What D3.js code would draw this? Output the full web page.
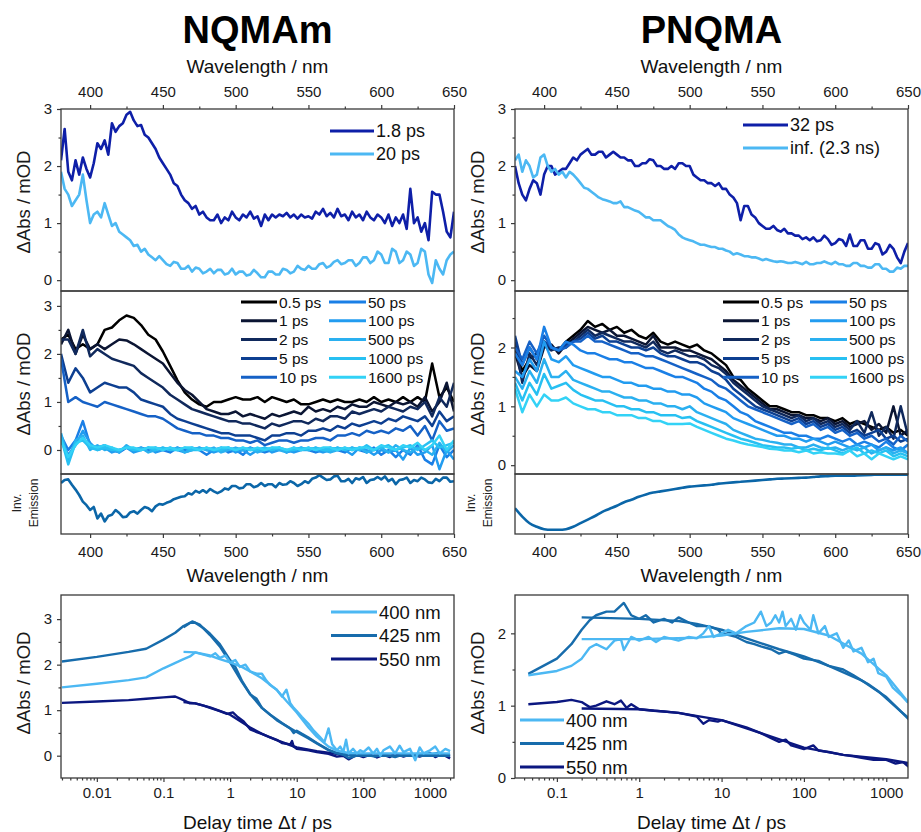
<!DOCTYPE html>
<html><head><meta charset="utf-8">
<script src="https://cdn.jsdelivr.net/npm/d3@7"></script>
<style>body{margin:0;background:#fff}</style>
</head><body>
<svg id="c" width="921" height="832"></svg>
<script>
// ---------- DATA ----------
const wavelengths = d3.range(380, 651, 5);        // 5 nm grid (55 points)
const wavelengthsFine = d3.range(380, 650.1, 2.5); // 2.5 nm grid (109 points)
const wlTicks = [400, 450, 500, 550, 600, 650];
const wlMinor = [425, 475, 525, 575, 625];

// NQMAm decay-associated spectra (2.5 nm grid)
const nqLabels = ["1.8 ps", "20 ps"];
const nqDas18 = [2.1,2.65,1.9,1.75, 2.1,1.85,2.15,1.95, 1.8,2.05,2.4,2.3, 2.45,2.2,2.75,2.6, 2.7,2.75,2.9,2.95,
  2.8,2.7,2.72,2.55, 2.5,2.4,2.3,2.15, 2.05,1.95,1.85,1.7, 1.65,1.5,1.4,1.35, 1.25,1.3,1.15,1.2,
  1.1,1.05,1.05,1.15, 1.0,1.1,1.05,1.2, 1.1,1.05,1.15,1.1, 1.2,1.08,1.12,0.95, 1.15,1.05,1.15,1.1,
  1.15,1.12,1.18,1.1, 1.15,1.08,1.15,1.1, 1.12,1.08,1.2,1.15, 1.25,1.12,1.18,1.1, 1.25,1.12,1.15,1.05,
  1.2,1.1,1.15,1.05, 1.2,1.1,1.05,1.15, 1.1,1.0,1.15,0.95, 1.1,1.0,1.15,0.9, 1.6,1.0,1.1,0.85,
  1.0,0.7,1.55,1.5, 1.5,1.2,0.85,0.75, 1.2];
const nqDas20 = [1.9,1.6,1.5,1.3, 1.4,1.5,1.85,1.4, 1.0,1.15,1.2,1.1, 1.35,1.15,0.95,1.0, 0.85,0.8,0.75,0.7,
  0.6,0.62,0.5,0.55, 0.45,0.4,0.35,0.42, 0.35,0.28,0.25,0.32, 0.3,0.2,0.2,0.25, 0.15,0.22,0.2,0.12,
  0.15,0.2,0.12,0.18, 0.18,0.1,0.12,0.2, 0.1,0.15,0.15,0.08, 0.1,0.18,0.12,0.05, 0.05,0.15,0.15,0.1,
  0.1,0.2,0.18,0.12, 0.15,0.25,0.2,0.18, 0.25,0.2,0.2,0.28, 0.3,0.22,0.25,0.32, 0.35,0.28,0.3,0.35,
  0.35,0.25,0.3,0.4, 0.4,0.3,0.35,0.5, 0.45,0.3,0.3,0.55, 0.5,0.3,0.35,0.5, 0.45,0.25,0.3,0.55,
  0.5,0.1,-0.05,0.35, 0.2,0.1,0.35,0.45, 0.5];

// PNQMA decay-associated spectra (2.5 nm grid)
const pnLabels = ["32 ps", "inf. (2.3 ns)"];
const pnDas32 = [2.0,1.7,1.5,1.4, 1.6,1.75,1.7,1.5, 1.85,2.0,2.0,1.85, 1.9,1.95,1.95,2.05, 2.15,2.1,2.2,2.25,
  2.3,2.2,2.2,2.25, 2.25,2.15,2.2,2.25, 2.2,2.15,2.15,2.1, 2.1,2.0,2.0,2.05, 2.05,2.12,2.1,2.0,
  2.0,1.95,1.95,2.0, 1.95,2.05,2.05,2.0, 2.0,1.85,1.8,1.75, 1.75,1.7,1.7,1.65, 1.7,1.6,1.6,1.5,
  1.45,1.35,1.05,1.3, 1.3,1.15,1.1,1.0, 0.95,0.9,0.9,0.95, 0.88,0.85,0.9,0.82, 0.82,0.78,0.78,0.72,
  0.75,0.7,0.75,0.68, 0.7,0.78,0.72,0.62, 0.65,0.72,0.7,0.6, 0.8,0.6,0.6,0.7, 0.7,0.55,0.55,0.65,
  0.62,0.45,0.5,0.62, 0.55,0.4,0.3,0.5, 0.65];
const pnDasInf = [2.1,2.2,1.9,2.1, 2.0,1.8,1.85,2.15, 2.2,2.0,1.9,1.95, 1.85,1.9,1.8,1.9, 1.85,1.78,1.7,1.62,
  1.6,1.55,1.5,1.45, 1.42,1.4,1.38,1.35, 1.35,1.38,1.28,1.28, 1.25,1.22,1.2,1.15, 1.1,1.1,1.05,1.05,
  1.05,1.0,0.95,0.92, 0.88,0.8,0.75,0.72, 0.7,0.68,0.65,0.62, 0.62,0.6,0.58,0.58, 0.55,0.55,0.52,0.5,
  0.45,0.47,0.45,0.42, 0.42,0.4,0.4,0.38, 0.35,0.37,0.35,0.33, 0.32,0.33,0.32,0.3, 0.3,0.32,0.3,0.28,
  0.32,0.28,0.28,0.3, 0.3,0.33,0.3,0.28, 0.32,0.28,0.28,0.25, 0.25,0.3,0.3,0.25, 0.25,0.22,0.22,0.28,
  0.28,0.2,0.2,0.15, 0.15,0.22,0.2,0.25, 0.25];

// Transient spectra at delay times (5 nm grid)
const delayLabels = ["0.5 ps","1 ps","2 ps","5 ps","10 ps","50 ps","100 ps","500 ps","1000 ps","1600 ps"];
const nqT05 = [2.3,2.4,2.1,2.2,2.1,2.2,2.5,2.55,2.7,2.8,2.75,2.6,2.4,2.3,2.05,1.75,1.45,1.2,1.05,0.95,0.9,1.0,1.0,1.05,1.1,1.05,1.05,1.1,1.0,1.1,1.05,1.0,1.05,0.95,0.95,1.0,1.05,1.0,1.05,1.0,1.0,1.05,1.0,1.1,1.0,1.05,1.0,1.1,1.0,1.1,1.0,1.8,1.1,1.3,1.0];
const nqT1 = [2.2,2.5,2.0,2.4,2.1,2.2,2.1,2.2,2.3,2.28,2.2,2.1,2.0,1.9,1.8,1.6,1.4,1.25,1.15,1.0,0.85,0.8,0.75,0.75,0.8,0.7,0.75,0.7,0.65,0.75,0.7,0.75,0.8,0.75,0.9,0.8,0.85,0.8,0.9,0.85,0.95,0.9,0.9,1.0,0.95,0.9,1.0,0.95,1.0,0.9,1.1,0.8,1.0,1.4,0.8];
const nqT2 = [2.3,2.3,2.0,2.5,1.95,2.1,2.0,1.9,1.85,1.8,1.75,1.6,1.5,1.4,1.3,1.15,1.05,0.95,0.85,0.8,0.75,0.7,0.65,0.6,0.6,0.55,0.55,0.5,0.45,0.55,0.5,0.55,0.6,0.6,0.55,0.65,0.6,0.7,0.7,0.65,0.8,0.75,0.8,0.85,0.8,0.9,0.85,0.8,0.9,0.85,1.0,0.7,1.1,0.9,1.4];
const nqT5 = [2.0,1.4,1.7,1.5,1.2,1.3,1.4,1.35,1.3,1.3,1.2,1.05,1.0,0.95,0.9,0.75,0.65,0.6,0.55,0.5,0.45,0.4,0.35,0.35,0.3,0.3,0.3,0.25,0.2,0.3,0.3,0.35,0.35,0.3,0.4,0.4,0.45,0.4,0.5,0.45,0.55,0.5,0.55,0.6,0.55,0.65,0.6,0.7,0.65,0.6,0.7,0.5,0.8,0.6,0.7];
const nqT10 = [1.9,1.0,1.1,1.0,0.95,0.9,1.0,0.95,0.9,0.85,0.8,0.75,0.7,0.7,0.65,0.55,0.45,0.4,0.35,0.35,0.3,0.3,0.25,0.25,0.2,0.2,0.15,0.2,0.1,0.15,0.2,0.2,0.15,0.2,0.2,0.25,0.25,0.2,0.3,0.3,0.35,0.3,0.4,0.35,0.4,0.35,0.45,0.4,0.5,0.3,0.5,0.2,0.6,0.4,0.45];
const nqT50 = [0.3,0.0,0.2,0.6,0.1,0.05,0.1,0.0,-0.05,0.05,0.0,0.05,0.0,0.05,0.0,-0.05,0.05,0.0,0.05,0.0,-0.1,0.0,0.05,-0.05,0.0,-0.1,0.05,0.0,-0.05,0.0,0.05,-0.05,0.0,0.05,0.0,-0.05,0.0,0.05,0.0,-0.05,0.05,0.0,-0.05,0.05,-0.1,0.0,-0.15,0.0,-0.1,0.1,-0.2,-0.3,0.1,-0.15,0.0];
const nqT100 = [0.2,-0.1,0.1,0.4,0.15,0.0,0.05,-0.05,0.0,0.05,-0.05,0.0,0.05,-0.05,0.0,0.05,0.0,-0.05,0.0,0.05,0.0,-0.05,0.0,0.05,-0.05,0.0,-0.1,0.0,0.05,-0.05,0.0,0.0,-0.05,0.0,0.05,0.0,-0.05,0.0,0.05,0.0,-0.1,0.05,0.0,-0.1,0.0,-0.05,0.0,-0.2,0.05,-0.1,-0.05,0.1,-0.4,0.0,-0.2];
const nqT500 = [0.35,-0.2,0.2,0.3,0.0,0.1,0.0,0.05,-0.05,0.1,0.0,0.05,-0.05,0.0,0.05,0.0,0.05,-0.05,0.0,0.05,0.0,0.05,-0.05,0.0,0.05,0.0,0.05,-0.05,0.0,0.05,0.0,-0.05,0.05,0.0,0.0,0.05,0.0,-0.05,0.0,0.05,0.0,0.05,-0.05,0.0,0.05,-0.05,0.1,0.0,-0.05,0.05,0.0,-0.1,0.15,-0.05,0.1];
const nqT1000 = [0.25,-0.3,0.15,0.2,0.05,0.0,0.05,0.0,0.0,0.05,0.0,0.0,0.05,0.0,0.05,0.0,0.0,0.05,0.0,0.0,0.05,0.0,0.0,0.05,0.0,0.05,0.0,0.0,0.05,0.0,0.05,0.0,0.0,0.05,0.0,0.05,0.0,0.0,0.05,0.0,0.05,0.0,0.1,0.0,0.05,0.1,0.0,0.05,0.1,0.0,0.1,0.2,0.05,0.1,0.15];
const nqT1600 = [0.2,-0.15,0.1,0.25,0.1,0.05,0.1,0.05,0.0,0.05,0.05,0.0,0.05,0.05,0.0,0.05,0.0,0.05,0.05,0.0,0.05,0.0,0.05,0.05,0.0,0.05,0.0,0.05,0.0,0.05,0.05,0.0,0.05,0.0,0.05,0.0,0.05,0.05,0.0,0.05,0.0,0.05,0.05,0.0,0.1,0.05,0.0,0.1,0.05,0.15,0.0,0.1,0.3,0.0,0.2];

const pnT05 = [2.0,1.6,1.8,1.9,2.1,2.0,1.95,2.1,2.2,2.3,2.45,2.35,2.4,2.3,2.35,2.25,2.3,2.2,2.15,2.25,2.1,2.05,2.1,2.05,2.0,2.05,1.95,1.9,1.8,1.7,1.5,1.45,1.3,1.2,1.1,1.0,1.0,0.95,0.9,0.9,0.85,0.85,0.8,0.8,0.75,0.8,0.7,0.75,0.7,0.65,0.6,0.65,0.55,0.6,0.5];
const pnT1 = [1.9,1.5,1.7,1.6,2.0,2.05,1.9,2.05,2.15,2.25,2.35,2.3,2.25,2.3,2.2,2.2,2.15,2.1,2.05,2.2,2.0,2.0,2.0,1.95,1.95,1.9,1.85,1.8,1.7,1.6,1.45,1.35,1.25,1.15,1.05,0.95,0.95,0.9,0.85,0.85,0.8,0.8,0.75,0.8,0.7,0.75,0.65,0.7,0.75,0.6,0.7,0.55,1.0,0.5,0.6];
const pnT2 = [2.1,1.4,1.9,1.7,2.05,1.95,2.0,2.0,2.1,2.2,2.3,2.2,2.25,2.2,2.15,2.1,2.1,2.05,2.0,2.1,1.95,1.9,1.95,1.9,1.85,1.85,1.8,1.7,1.65,1.55,1.4,1.3,1.2,1.1,1.0,0.95,0.9,0.85,0.8,0.85,0.75,0.8,0.7,0.75,0.65,0.7,0.6,0.75,0.55,0.9,0.5,0.65,0.45,1.0,0.5];
const pnT5 = [2.2,1.7,2.0,1.8,2.1,2.0,1.95,2.05,2.1,2.15,2.25,2.15,2.2,2.1,2.1,2.05,2.0,2.0,1.95,2.0,1.9,1.85,1.85,1.8,1.75,1.75,1.7,1.6,1.55,1.45,1.3,1.2,1.1,1.0,0.95,0.9,0.85,0.8,0.75,0.8,0.7,0.75,0.65,0.7,0.6,0.65,0.55,0.6,0.5,0.55,0.6,0.45,0.5,0.4,0.45];
const pnT10 = [2.0,1.8,2.1,1.9,2.2,2.0,1.95,2.0,2.1,2.1,2.2,2.1,2.1,2.05,2.0,1.95,1.9,1.9,1.85,1.85,1.8,1.75,1.7,1.65,1.6,1.55,1.5,1.45,1.35,1.3,1.2,1.1,1.0,0.95,0.9,0.85,0.8,0.75,0.7,0.75,0.65,0.7,0.6,0.65,0.55,0.6,0.5,0.55,0.45,0.5,0.4,0.45,0.35,0.5,0.4];
const pnT50 = [1.9,1.7,2.0,1.8,2.35,2.0,1.95,2.1,2.05,1.95,1.9,1.9,1.85,1.8,1.8,1.75,1.75,1.7,1.65,1.65,1.6,1.55,1.5,1.5,1.45,1.4,1.3,1.25,1.15,1.1,1.0,0.9,0.85,0.75,0.7,0.65,0.6,0.55,0.55,0.5,0.5,0.45,0.45,0.5,0.45,0.4,0.45,0.35,0.4,0.35,0.3,0.4,0.3,0.25,0.35];
const pnT100 = [1.6,1.5,1.8,1.6,2.1,1.8,1.75,1.85,1.7,1.65,1.6,1.55,1.5,1.5,1.45,1.4,1.4,1.35,1.35,1.3,1.3,1.25,1.25,1.2,1.2,1.15,1.05,1.0,0.95,0.9,0.8,0.75,0.7,0.65,0.6,0.55,0.5,0.5,0.45,0.45,0.4,0.45,0.4,0.35,0.4,0.35,0.3,0.35,0.3,0.35,0.25,0.3,0.25,0.3,0.2];
const pnT500 = [1.5,1.3,1.6,1.4,1.8,1.5,1.5,1.6,1.45,1.4,1.35,1.3,1.25,1.25,1.2,1.15,1.15,1.1,1.1,1.05,1.05,1.0,1.0,0.95,1.0,0.9,0.85,0.8,0.75,0.7,0.6,0.55,0.5,0.45,0.43,0.4,0.38,0.35,0.35,0.3,0.3,0.35,0.3,0.28,0.3,0.25,0.3,0.25,0.3,0.2,0.25,0.3,0.2,0.25,0.2];
const pnT1000 = [1.4,1.1,1.4,1.2,1.55,1.3,1.35,1.4,1.28,1.2,1.15,1.1,1.1,1.05,1.0,1.0,0.95,0.95,0.9,0.9,0.85,0.85,0.85,0.8,0.82,0.75,0.7,0.65,0.6,0.55,0.5,0.45,0.42,0.38,0.34,0.32,0.3,0.3,0.28,0.3,0.25,0.28,0.25,0.3,0.25,0.2,0.25,0.3,0.2,0.25,0.2,0.25,0.15,0.2,0.15];
const pnT1600 = [1.3,0.9,1.2,1.0,1.2,1.1,1.1,1.15,1.05,1.0,0.95,0.95,0.9,0.9,0.85,0.85,0.85,0.8,0.8,0.75,0.75,0.7,0.7,0.7,0.71,0.65,0.6,0.55,0.5,0.45,0.42,0.38,0.35,0.33,0.31,0.28,0.27,0.25,0.25,0.22,0.25,0.2,0.22,0.2,0.2,0.18,0.25,0.15,0.2,0.1,0.2,0.15,0.1,0.15,0.1];

// Inverted emission (normalised): NQMAm on 2.5 nm grid, PNQMA on 5 nm grid
const nqEmission = [-0.15,-0.1,-0.09,-0.18, -0.26,-0.35,-0.46,-0.52, -0.6,-0.55,-0.74,-0.66, -0.79,-0.7,-0.68,-0.6,
  -0.65,-0.72,-0.71,-0.64, -0.62,-0.66,-0.6,-0.55, -0.57,-0.62,-0.54,-0.5, -0.51,-0.48,-0.46,-0.42,
  -0.4,-0.38,-0.37,-0.32, -0.34,-0.28,-0.31,-0.27, -0.31,-0.25,-0.29,-0.32, -0.29,-0.24,-0.26,-0.2,
  -0.2,-0.24,-0.23,-0.17, -0.17,-0.22,-0.2,-0.15, -0.2,-0.17,-0.17,-0.22, -0.15,-0.18,-0.17,-0.12,
  -0.15,-0.2,-0.17,-0.12, -0.15,-0.08,-0.06,-0.02, -0.06,-0.1,-0.09,-0.04, -0.03,-0.12,-0.12,-0.08,
  -0.15,-0.07,-0.09,-0.05, -0.15,-0.1,-0.09,-0.05, -0.09,-0.04,-0.12,-0.08, -0.17,-0.1,-0.09,-0.06,
  -0.15,-0.1,-0.12,-0.06, -0.09,-0.14,-0.15,-0.08, -0.12,-0.06,-0.06,-0.13, -0.12];
const pnEmission = [-0.57,-0.71,-0.82,-0.88,-0.92,-0.93,-0.93,-0.92,-0.88,-0.82,-0.76,-0.7,-0.63,-0.58,-0.53,-0.47,-0.43,-0.38,-0.34,-0.31,-0.29,-0.27,-0.25,-0.23,-0.21,-0.2,-0.19,-0.18,-0.16,-0.15,-0.14,-0.13,-0.12,-0.11,-0.1,-0.09,-0.08,-0.075,-0.07,-0.065,-0.06,-0.05,-0.04,-0.035,-0.03,-0.03,-0.03,-0.025,-0.02,-0.015,-0.01,-0.01,-0.01,-0.01,-0.01];

// Kinetic traces [delay (ps), dAbs (mOD)]
const kinLabels = ["400 nm", "425 nm", "550 nm"];
const nqK400 = [[0.003,1.5],[0.01,1.58],[0.03,1.66],[0.055,1.72],[0.1,1.92],[0.2,2.12],[0.25,2.18],[0.3,2.27],[0.4,2.22],[0.5,2.18],[0.6,2.25],[0.7,2.15],[0.85,2.2],[1,2.05],[1.2,2.1],[1.4,1.95],[1.7,2.0],[2,1.85],[2.5,1.8],[3,1.8],[3.5,1.65],[4,1.55],[5,1.45],[6,1.3],[7,1.45],[8,1.15],[9,1.05],[10,0.98],[12,0.85],[15,0.7],[18,0.55],[22,0.42],[26,0.3],[30,0.6],[34,0.25],[40,0.12],[45,0.2],[50,0.08],[55,0.35],[60,0.05],[70,0.15],[80,0.05],[90,0.12],[100,0.08],[120,0.18],[140,0.05],[160,0.15],[180,0.0],[200,0.12],[250,0.2],[300,0.05],[350,0.22],[400,0.08],[500,0.15],[600,-0.1],[700,0.18],[800,0.05],[1000,0.12],[1200,0.2],[1400,0.05],[1700,0.15],[2000,0.1]];
const nqK400fit = [[0.2,2.28],[0.3,2.27],[0.5,2.2],[0.7,2.12],[1,2.05],[1.5,1.95],[2,1.85],[3,1.7],[5,1.45],[7,1.2],[10,0.95],[15,0.62],[20,0.42],[30,0.2],[40,0.11],[60,0.06],[100,0.05],[300,0.05],[2000,0.05]];
const nqK425 = [[0.003,2.07],[0.01,2.17],[0.03,2.28],[0.055,2.35],[0.1,2.55],[0.15,2.7],[0.2,2.85],[0.25,2.92],[0.3,2.92],[0.4,2.8],[0.5,2.68],[0.7,2.45],[1,2.1],[1.2,1.95],[1.5,1.65],[2,1.35],[2.5,1.25],[3,1.05],[4,0.9],[5,0.8],[6,0.72],[8,0.6],[9,0.5],[10,0.55],[12,0.48],[15,0.4],[20,0.28],[30,0.13],[40,0.05],[50,0.02],[60,-0.05],[80,0.0],[100,0.03],[150,-0.02],[200,0.03],[300,-0.03],[400,0.03],[500,0.0],[700,0.04],[1000,0.02],[1300,0.06],[1600,0.0],[2000,0.03]];
const nqK425fit = [[0.2,2.82],[0.27,2.95],[0.35,2.88],[0.5,2.65],[0.7,2.4],[1,2.05],[1.5,1.62],[2,1.35],[3,1.05],[5,0.78],[8,0.6],[10,0.52],[15,0.38],[20,0.27],[30,0.12],[40,0.06],[60,0.02],[100,0.0],[2000,0.0]];
const nqK550 = [[0.003,1.16],[0.01,1.19],[0.03,1.22],[0.055,1.25],[0.1,1.28],[0.15,1.3],[0.2,1.22],[0.25,1.15],[0.3,1.15],[0.4,1.1],[0.5,1.05],[0.7,0.98],[0.9,0.92],[1.1,0.95],[1.3,0.85],[1.6,0.75],[2,0.58],[2.5,0.52],[3,0.48],[4,0.4],[5,0.35],[6,0.28],[8,0.25],[8.5,0.32],[9,0.2],[10,0.15],[15,0.12],[20,0.08],[30,0.04],[40,-0.02],[50,0.0],[60,-0.08],[80,0.02],[100,-0.03],[130,0.03],[160,-0.04],[200,0.02],[250,-0.03],[300,0.05],[400,-0.02],[500,0.03],[700,-0.02],[1000,0.06],[1200,-0.03],[1500,0.04],[2000,-0.06]];
const nqK550fit = [[0.2,1.18],[0.3,1.15],[0.5,1.06],[1,0.9],[2,0.62],[3,0.48],[5,0.34],[10,0.18],[20,0.1],[50,0.02],[100,0.0],[2000,0.0]];

const pnK400 = [[0.045,1.42],[0.1,1.48],[0.15,1.55],[0.2,1.65],[0.25,1.8],[0.3,1.85],[0.4,1.78],[0.5,1.9],[0.6,1.92],[0.65,1.77],[0.8,1.95],[1,1.9],[1.3,1.95],[1.6,1.88],[2,1.95],[3,1.9],[4,1.95],[5,1.93],[6,2.0],[7,2.1],[8,1.95],[10,2.0],[12,2.05],[15,2.0],[20,2.1],[25,2.15],[30,2.3],[35,2.1],[40,2.15],[45,2.25],[50,2.15],[55,2.3],[60,2.1],[70,2.2],[80,2.05],[90,2.25],[100,2.15],[120,2.05],[130,2.25],[150,2.0],[180,2.1],[200,1.95],[250,2.0],[300,1.8],[350,1.9],[400,1.75],[500,1.8],[600,1.6],[700,1.65],[800,1.45],[1000,1.4],[1200,1.25],[1500,1.15],[1800,1.05],[2000,1.1]];
const pnK400fit = [[0.2,1.92],[1,1.92],[5,1.94],[10,1.97],[20,2.02],[50,2.07],[100,2.06],[200,1.97],[500,1.72],[1000,1.42],[2000,1.0]];
const pnK425 = [[0.045,1.44],[0.1,1.65],[0.15,1.85],[0.2,2.05],[0.25,2.18],[0.3,2.25],[0.4,2.3],[0.5,2.3],[0.65,2.42],[0.8,2.25],[1,2.2],[1.2,2.25],[1.5,2.15],[2,2.2],[2.5,2.15],[3,2.22],[4,2.15],[5,2.1],[7,2.1],[9,2.05],[10,2.0],[12,1.98],[15,1.95],[20,1.88],[25,1.85],[30,1.82],[40,1.78],[50,1.72],[60,1.75],[80,1.7],[100,1.65],[150,1.62],[200,1.55],[300,1.5],[400,1.42],[500,1.35],[600,1.3],[800,1.2],[1000,1.1],[1500,0.92],[2000,0.8]];
const pnK425fit = [[0.2,2.22],[1,2.2],[3,2.17],[5,2.13],[10,2.05],[20,1.93],[50,1.78],[100,1.68],[200,1.55],[500,1.35],[1000,1.12],[2000,0.78]];
const pnK550 = [[0.045,1.02],[0.1,1.05],[0.15,1.08],[0.2,1.05],[0.25,0.98],[0.3,1.0],[0.4,1.06],[0.5,1.02],[0.6,1.07],[0.7,0.97],[0.8,1.02],[1,0.95],[1.5,0.93],[2,0.92],[3,0.9],[5,0.85],[6,0.75],[7,0.8],[9,0.78],[10,0.8],[15,0.74],[20,0.7],[30,0.62],[40,0.55],[50,0.5],[60,0.53],[70,0.45],[100,0.4],[130,0.45],[150,0.38],[200,0.36],[300,0.32],[400,0.3],[500,0.28],[700,0.25],[1000,0.25],[1300,0.2],[1600,0.22],[1900,0.15],[2000,0.0]];
const pnK550fit = [[0.2,0.96],[1,0.95],[3,0.9],[10,0.8],[30,0.62],[100,0.42],[300,0.32],[1000,0.26],[2000,0.2]];

// ---------- STYLE ----------
const FONT = "'Liberation Sans', Arial, Helvetica, sans-serif";
const dasColors = ["#0e1fa8", "#4cb8f3"];
const delayColors = ["#000000","#0b1533","#10295c","#0d3f91","#1561c6","#1a7fe6","#229cf0","#2ab0f0","#27c0f2","#33d2f6"];
const emColor = "#0b66a8";
const kinColors = ["#4cb8f3", "#176cac", "#0b1780"];

const svg = d3.select("#c").style("font-family", FONT);
svg.append("rect").attr("width", 921).attr("height", 832).attr("fill", "#fff");

const cols = [{x0: 61, x1: 454}, {x0: 515, x1: 908}];
const rows = {top: [109, 291], mid: [291, 474], em: [474, 534], kin: [595, 778]};

let clipN = 0;
function clipped(x0, x1, y0, y1) {
  const id = "cp" + (clipN++);
  svg.append("clipPath").attr("id", id).append("rect")
    .attr("x", x0).attr("y", y0).attr("width", x1 - x0).attr("height", y1 - y0);
  return svg.append("g").attr("clip-path", `url(#${id})`);
}
function frame(x0, x1, y0, y1) {
  svg.append("rect").attr("x", x0).attr("y", y0).attr("width", x1 - x0).attr("height", y1 - y0)
    .attr("fill", "none").attr("stroke", "#3a3a3a").attr("stroke-width", 1.3);
}
function styleAxis(g, size) {
  g.select(".domain").remove();
  g.selectAll("line").attr("stroke", "#3a3a3a").attr("stroke-width", 1.2);
  g.selectAll("text").attr("fill", "#1a1a1a").style("font-size", (size || 15) + "px").style("font-family", FONT);
}
function yAxis(y, x0, major, minor) {
  const g1 = svg.append("g").attr("transform", `translate(${x0},0)`)
    .call(d3.axisLeft(y).tickValues(major).tickSize(4).tickPadding(5).tickFormat(d3.format("d")));
  styleAxis(g1);
  const g2 = svg.append("g").attr("transform", `translate(${x0},0)`)
    .call(d3.axisLeft(y).tickValues(minor).tickSize(2.5).tickFormat(""));
  styleAxis(g2);
}
function yLabel(t, x, y, size) {
  svg.append("text").attr("transform", `translate(${x},${y}) rotate(-90)`)
    .attr("text-anchor", "middle").style("font-size", (size || 18.5) + "px").attr("fill", "#1a1a1a").text(t);
}
function text(t, x, y, size, anchor, weight) {
  return svg.append("text").attr("x", x).attr("y", y).attr("text-anchor", anchor || "start")
    .style("font-size", size + "px").style("font-weight", weight || "normal").attr("fill", "#111").text(t);
}
function legendRow(xa, xb, y, color, label, size) {
  svg.append("line").attr("x1", xa).attr("x2", xb).attr("y1", y).attr("y2", y)
    .attr("stroke", color).attr("stroke-width", 3);
  text(label, xb + 2, y + size * 0.36, size);
}

// ---------- DRAW ONE COLUMN ----------
function drawColumn(ci, cfg) {
  const c = cols[ci];
  const cx = (c.x0 + c.x1) / 2;
  const x = d3.scaleLinear().domain([380, 650]).range([c.x0, c.x1]);

  text(cfg.title, cx, 43.3, 38, "middle", "bold").attr("fill", "#000");
  text("Wavelength / nm", cx, 72.5, 19, "middle");
  const gt = svg.append("g").attr("transform", `translate(0,${rows.top[0]})`)
    .call(d3.axisTop(x).tickValues(wlTicks).tickSize(4).tickPadding(8).tickFormat(d3.format("d")));
  styleAxis(gt);
  const gtm = svg.append("g").attr("transform", `translate(0,${rows.top[0]})`)
    .call(d3.axisTop(x).tickValues(wlMinor).tickSize(2.5).tickFormat(""));
  styleAxis(gtm);

  // Panel 1: decay-associated spectra
  const yTop = d3.scaleLinear().domain(cfg.topDomain).range([rows.top[1], rows.top[0]]);
  const line1 = d3.line().x((d, i) => x(wavelengthsFine[i])).y(d => yTop(d));
  const g1 = clipped(c.x0, c.x1, rows.top[0], rows.top[1]);
  cfg.das.forEach((s, i) => {
    g1.append("path").datum(s).attr("d", line1).attr("fill", "none")
      .attr("stroke", dasColors[i]).attr("stroke-width", 2.6).attr("stroke-linejoin", "round");
  });
  yAxis(yTop, c.x0, [0, 1, 2, 3], [0.5, 1.5, 2.5]);
  yLabel("\u0394Abs / mOD", c.x0 - 31.5, 202);
  cfg.dasLabels.forEach((l, i) => legendRow(cfg.dasLeg[0], cfg.dasLeg[1], cfg.dasLeg[2] + i * 23, dasColors[i], l, 18));

  // Panel 2: transient spectra
  const yMid = d3.scaleLinear().domain(cfg.midDomain).range([rows.mid[1], rows.mid[0]]);
  const line2 = d3.line().x((d, i) => x(wavelengths[i])).y(d => yMid(d));
  const g2 = clipped(c.x0, c.x1, rows.mid[0], rows.mid[1]);
  cfg.spectra.forEach((s, i) => {
    g2.append("path").datum(s).attr("d", line2).attr("fill", "none")
      .attr("stroke", delayColors[i]).attr("stroke-width", 2.5).attr("stroke-linejoin", "round");
  });
  yAxis(yMid, c.x0, cfg.midMajor, [0.5, 1.5, 2.5]);
  yLabel("\u0394Abs / mOD", c.x0 - 31.5, 384);
  delayLabels.forEach((l, i) => {
    const col = Math.floor(i / 5), r = i % 5;
    const L = cfg.midLeg[col];
    legendRow(L[0], L[1], 302 + r * 18.8, delayColors[i], l, 15.5);
  });

  // Panel 3: inverted emission
  const yEm = d3.scaleLinear().domain([-1, 0]).range([rows.em[1], rows.em[0]]);
  const line3 = d3.line().x((d, i) => x(cfg.emGrid[i])).y(d => yEm(d)).curve(cfg.emCurve);
  const g3 = clipped(c.x0, c.x1, rows.em[0], rows.em[1]);
  g3.append("path").datum(cfg.emission).attr("d", line3).attr("fill", "none")
    .attr("stroke", emColor).attr("stroke-width", 2.6).attr("stroke-linejoin", "round");
  const gb = svg.append("g").attr("transform", `translate(0,${rows.em[1]})`)
    .call(d3.axisBottom(x).tickValues(wlTicks).tickSize(4).tickPadding(8).tickFormat(d3.format("d")));
  styleAxis(gb);
  const gbm = svg.append("g").attr("transform", `translate(0,${rows.em[1]})`)
    .call(d3.axisBottom(x).tickValues(wlMinor).tickSize(2.5).tickFormat(""));
  styleAxis(gbm);
  svg.append("text").attr("transform", `translate(${c.x0 - 40},503) rotate(-90)`)
    .attr("text-anchor", "middle").style("font-size", "12px").attr("fill", "#222").text("Inv.");
  svg.append("text").attr("transform", `translate(${c.x0 - 23},503) rotate(-90)`)
    .attr("text-anchor", "middle").style("font-size", "12px").attr("fill", "#222").text("Emission");
  text("Wavelength / nm", cx, 582, 19, "middle");

  frame(c.x0, c.x1, rows.top[0], rows.top[1]);
  frame(c.x0, c.x1, rows.mid[0], rows.mid[1]);
  frame(c.x0, c.x1, rows.em[0], rows.em[1]);

  // Panel 4: kinetics
  const xk = d3.scaleLog().domain(cfg.kinX).range([c.x0, c.x1]);
  const yk = d3.scaleLinear().domain(cfg.kinY).range([rows.kin[1], rows.kin[0]]);
  const lk = d3.line().x(d => xk(d[0])).y(d => yk(d[1]));
  const g4 = clipped(c.x0, c.x1, rows.kin[0], rows.kin[1]);
  [2, 1, 0].forEach(i => {
    g4.append("path").datum(cfg.kinFit[i]).attr("d", lk).attr("fill", "none")
      .attr("stroke", kinColors[i]).attr("stroke-width", 2.4).attr("stroke-linejoin", "round");
    g4.append("path").datum(cfg.kin[i]).attr("d", lk).attr("fill", "none")
      .attr("stroke", kinColors[i]).attr("stroke-width", 2.4).attr("stroke-linejoin", "round");
  });
  frame(c.x0, c.x1, rows.kin[0], rows.kin[1]);
  const minors = [];
  const lo = Math.floor(Math.log10(cfg.kinX[0])), hi = Math.ceil(Math.log10(cfg.kinX[1]));
  for (let p = lo; p <= hi; p++) for (let m = 2; m <= 9; m++) {
    const v = m * Math.pow(10, p);
    if (v >= cfg.kinX[0] && v <= cfg.kinX[1]) minors.push(v);
  }
  const gk = svg.append("g").attr("transform", `translate(0,${rows.kin[1]})`)
    .call(d3.axisBottom(xk).tickValues(cfg.kinMajor).tickSize(4).tickPadding(5).tickFormat(d => d3.format("~g")(d)));
  styleAxis(gk);
  const gkm = svg.append("g").attr("transform", `translate(0,${rows.kin[1]})`)
    .call(d3.axisBottom(xk).tickValues(minors).tickSize(2.5).tickFormat(""));
  styleAxis(gkm);
  yAxis(yk, c.x0, cfg.kinYMajor, cfg.kinYMinor);
  yLabel("\u0394Abs / mOD", c.x0 - 31.5, 683);
  text("Delay time \u0394t / ps", cx, 828.5, 19, "middle");
  kinLabels.forEach((l, i) => legendRow(cfg.kinLeg[0], cfg.kinLeg[1], cfg.kinLeg[2] + i * cfg.kinLeg[3], kinColors[i], l, 18.5));
}

drawColumn(0, {
  title: "NQMAm",
  topDomain: [-0.19, 3], das: [nqDas18, nqDas20], dasLabels: nqLabels, dasLeg: [330, 374, 131],
  midDomain: [-0.5, 3.31], midMajor: [0, 1, 2, 3], spectra: [nqT05, nqT1, nqT2, nqT5, nqT10, nqT50, nqT100, nqT500, nqT1000, nqT1600],
  midLeg: [[241, 277], [329, 366]],
  emission: nqEmission, emGrid: wavelengthsFine, emCurve: d3.curveLinear,
  kinX: [0.0029, 2290], kinY: [-0.49, 3.53], kinMajor: [0.01, 0.1, 1, 10, 100, 1000],
  kinYMajor: [0, 1, 2, 3], kinYMinor: [0.5, 1.5, 2.5],
  kin: [nqK400, nqK425, nqK550], kinFit: [nqK400fit, nqK425fit, nqK550fit],
  kinLeg: [331, 377, 612, 23.5]
});
drawColumn(1, {
  title: "PNQMA",
  topDomain: [-0.19, 3], das: [pnDas32, pnDasInf], dasLabels: pnLabels, dasLeg: [743, 788, 125],
  midDomain: [-0.15, 2.96], midMajor: [0, 1, 2], spectra: [pnT05, pnT1, pnT2, pnT5, pnT10, pnT50, pnT100, pnT500, pnT1000, pnT1600],
  midLeg: [[723, 759], [810, 847]],
  emission: pnEmission, emGrid: wavelengths, emCurve: d3.curveMonotoneX,
  kinX: [0.031, 1836], kinY: [0, 2.53], kinMajor: [0.1, 1, 10, 100, 1000],
  kinYMajor: [0, 1, 2], kinYMinor: [0.5, 1.5],
  kin: [pnK400, pnK425, pnK550], kinFit: [pnK400fit, pnK425fit, pnK550fit],
  kinLeg: [520, 564, 720, 23.5]
});
</script>
</body></html>
